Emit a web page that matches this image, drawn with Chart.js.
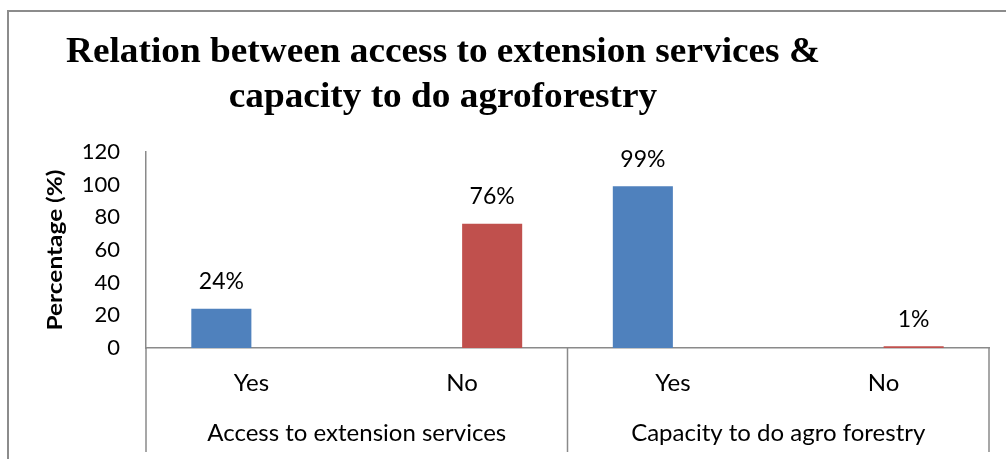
<!DOCTYPE html>
<html>
<head>
<meta charset="utf-8">
<script src="https://cdn.jsdelivr.net/npm/chart.js@4.4.1/dist/chart.umd.min.js"></script>
<style>
  html, body { margin: 0; padding: 0; background: #fff; }
</style>
</head>
<body>
<canvas id="bar-chart" width="1006" height="459"></canvas>
<script>
var titleLines = ["Relation between access to extension services &", "capacity to do agroforestry"];
var yTitle = "Percentage (%)";
var answers = ["Yes", "No", "Yes", "No"];
var groups = ["Access to extension services", "Capacity to do agro forestry"];
var yesValues = [24, null, 99, null];
var noValues = [null, 76, null, 1];
var yTicks = [0, 20, 40, 60, 80, 100, 120];

var axisGrey = '#8a8a8a';
var bodyFont = 'Lato';

// outer frame of the figure (only left and top edges show)
var framePlugin = {
  id: 'frame',
  beforeDraw: function(chart) {
    var ctx = chart.ctx;
    ctx.save();
    ctx.strokeStyle = '#8c8c8c';
    ctx.lineWidth = 2;
    ctx.beginPath();
    ctx.moveTo(8, 470);
    ctx.lineTo(8, 11);
    ctx.lineTo(1010, 11);
    ctx.stroke();
    ctx.restore();
  }
};

// draws text squeezed/stretched along its run to a given length
function fitText(ctx, text, x, y, length, rotation) {
  ctx.save();
  ctx.translate(x, y);
  ctx.rotate(rotation);
  ctx.scale(length / ctx.measureText(text).width, 1);
  ctx.fillText(text, 0, 0);
  ctx.restore();
}

// two-line heading in condensed bold serif
var headingPlugin = {
  id: 'heading',
  afterDraw: function(chart) {
    var ctx = chart.ctx;
    ctx.save();
    ctx.font = 'bold 35px "Liberation Serif"';
    ctx.fillStyle = '#000';
    ctx.textAlign = 'center';
    ctx.textBaseline = 'alphabetic';
    var sx = 754 / ctx.measureText(titleLines[0]).width;
    var baselines = [62, 107];
    titleLines.forEach(function(line, i) {
      var w = ctx.measureText(line).width * sx;
      fitText(ctx, line, 443, baselines[i], w, 0);
    });
    ctx.restore();
  }
};

// rotated y-axis caption
var yCaption = {
  id: 'yCaption',
  afterDraw: function(chart) {
    var ctx = chart.ctx;
    var area = chart.chartArea;
    ctx.save();
    ctx.font = 'bold 20px ' + bodyFont;
    ctx.fillStyle = '#000';
    ctx.textAlign = 'center';
    ctx.textBaseline = 'middle';
    fitText(ctx, yTitle, 56, (area.top + area.bottom) / 2, 161, -Math.PI / 2);
    ctx.restore();
  }
};

// second row of category labels with divider lines
var groupPlugin = {
  id: 'groups',
  afterDraw: function(chart) {
    var ctx = chart.ctx;
    var xs = chart.scales.x;
    var area = chart.chartArea;
    var edges = [xs.getPixelForValue(-0.5), xs.getPixelForValue(1.5), xs.getPixelForValue(3.5)];
    ctx.save();
    ctx.strokeStyle = axisGrey;
    ctx.lineWidth = 1.5;
    edges.forEach(function(x) {
      ctx.beginPath();
      ctx.moveTo(x, area.bottom);
      ctx.lineTo(x, 452);
      ctx.stroke();
    });
    ctx.font = '24px ' + bodyFont;
    ctx.fillStyle = '#000';
    ctx.textAlign = 'center';
    ctx.textBaseline = 'middle';
    groups.forEach(function(g, i) {
      ctx.fillText(g, (edges[i] + edges[i + 1]) / 2, 433);
    });
    ctx.restore();
  }
};

// percentage labels above each bar
var valueLabels = {
  id: 'valueLabels',
  afterDatasetsDraw: function(chart) {
    var ctx = chart.ctx;
    ctx.save();
    ctx.font = '23px ' + bodyFont;
    ctx.fillStyle = '#000';
    ctx.textAlign = 'center';
    ctx.textBaseline = 'middle';
    chart.data.datasets.forEach(function(ds, di) {
      chart.getDatasetMeta(di).data.forEach(function(bar, i) {
        var v = ds.data[i];
        if (v === null) return;
        ctx.fillText(v + '%', bar.x, bar.y - 27);
      });
    });
    ctx.restore();
  }
};

new Chart(document.getElementById("bar-chart"), {
  type: 'bar',
  data: {
    labels: answers,
    datasets: [
      { label: 'Yes', data: yesValues, backgroundColor: '#4F81BD', categoryPercentage: 0.57, barPercentage: 1 },
      { label: 'No', data: noValues, backgroundColor: '#C0504D', categoryPercentage: 0.57, barPercentage: 1 }
    ]
  },
  options: {
    responsive: false,
    animation: false,
    layout: { padding: { left: 0, right: 17, top: 152, bottom: 0 } },
    plugins: {
      legend: { display: false },
      tooltip: { enabled: false },
      title: { display: false }
    },
    scales: {
      x: {
        afterFit: function(scale) { scale.height = 111; },
        grid: { display: false, drawTicks: false },
        border: { display: true, color: axisGrey, width: 1.5 },
        ticks: { padding: 21, color: '#000', font: { family: bodyFont, size: 24 } }
      },
      y: {
        min: 0,
        max: 120,
        afterBuildTicks: function(scale) { scale.ticks = yTicks.map(function(v) { return { value: v }; }); },
        afterFit: function(scale) { scale.width = 146; },
        grid: { display: false, drawTicks: false },
        border: { display: true, color: axisGrey, width: 1.5 },
        ticks: { padding: 26, color: '#000', font: { family: bodyFont, size: 22 } }
      }
    }
  },
  plugins: [framePlugin, headingPlugin, yCaption, groupPlugin, valueLabels]
});
</script>
</body>
</html>
